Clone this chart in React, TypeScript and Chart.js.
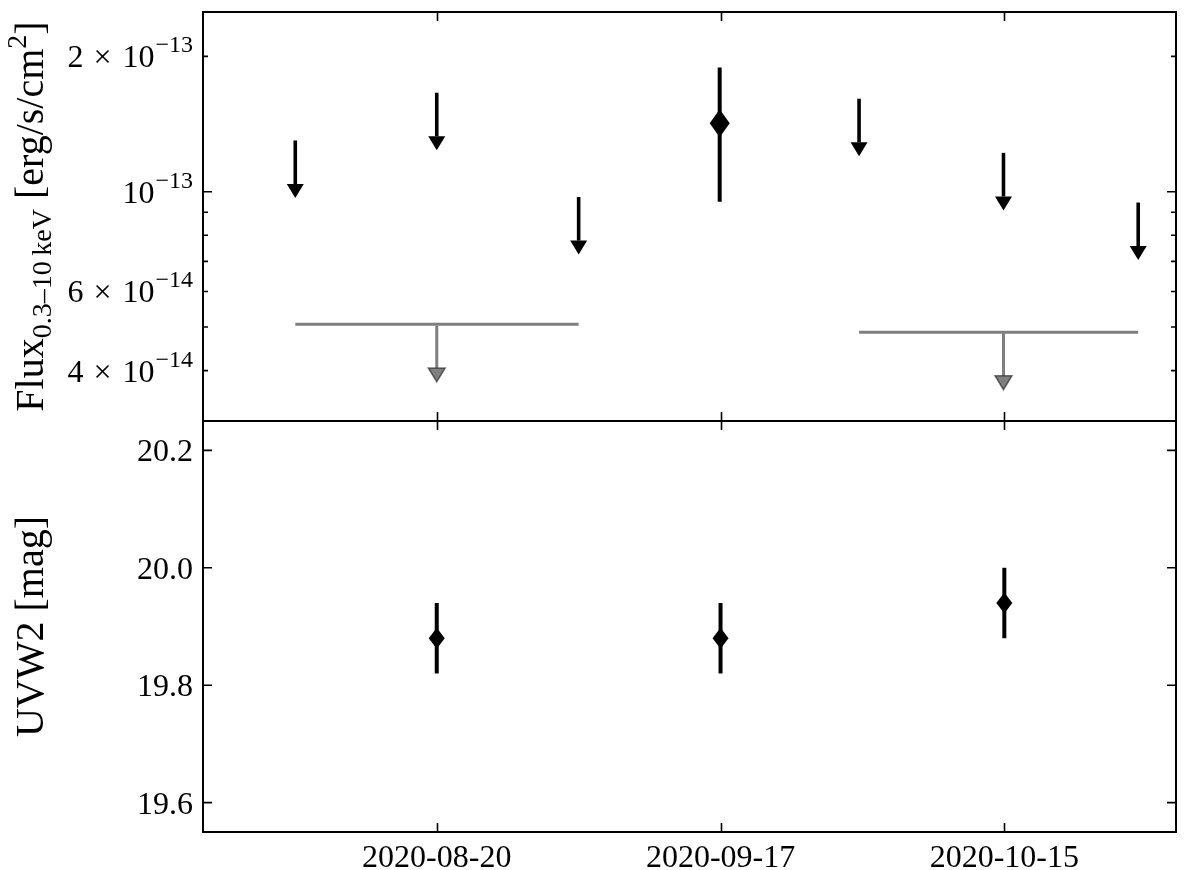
import React, { useEffect, useRef } from 'react';
import { Chart, registerables } from 'chart.js';

Chart.register(...registerables);

const FONT = '"Liberation Serif", "Times New Roman", serif';

// ---- X-ray (0.3-10 keV) single-epoch upper limits [erg/s/cm^2] ----
const xrayUlDates = ['2020-08-06T01:00', '2020-08-20T00:00', '2020-09-03T00:00', '2020-09-30T16:00', '2020-10-14T22:00', '2020-10-28T05:00'];
const xrayUlFlux = [1.30e-13, 1.66e-13, 0.973e-13, 1.61e-13, 1.22e-13, 0.946e-13];

// ---- X-ray detection ----
const xrayDetDates = ['2020-09-16T22:00'];
const xrayDetFlux = [1.42e-13];
const xrayDetErr = [0.47e-13];

// ---- X-ray stacked upper limits ----
const stackStartDates = ['2020-08-06T01:00', '2020-09-30T16:00'];
const stackEndDates = ['2020-09-03T00:00', '2020-10-28T05:00'];
const stackMidDates = ['2020-08-20T00:00', '2020-10-14T22:00'];
const stackFlux = [5.07e-14, 4.87e-14];

// ---- UVW2 photometry [mag] ----
const uvDates = ['2020-08-20T00:00', '2020-09-17T00:00', '2020-10-15T00:00'];
const uvMag = [19.88, 19.88, 19.94];
const uvErr = [0.06, 0.06, 0.06];

// ---- axes ----
const xTickDates = ['2020-08-20', '2020-09-17', '2020-10-15'];
const xMinDate = '2020-07-27T22:30';
const xMaxDate = '2020-10-31T22:30';
const fluxMin = 3.09e-14;
const fluxMax = 2.51e-13;
const fluxTickValues = [2e-13, 1e-13, 6e-14, 4e-14];
const fluxTickMantissa = ['2', '', '6', '4'];
const fluxTickExponent = ['\u221213', '\u221213', '\u221214', '\u221214'];
const fluxMajorTicks = [1e-13];
const fluxMinorTicks = [4e-14, 5e-14, 6e-14, 7e-14, 8e-14, 9e-14, 2e-13];
const magMin = 19.55;
const magMax = 20.25;
const magTicks = [19.6, 19.8, 20.0, 20.2];
const magTickLabels = ['19.6', '19.8', '20.0', '20.2'];

// upper-limit arrow convention: bar spans 20% of the value, caret below
const UL_FRACTION = 0.2;

const day = (s: string) => Date.parse(s.length === 10 ? s + 'T00:00:00Z' : s + ':00Z') / 86400000;

type Seg = { text: string; size: number; dy: number; gap?: number };

function segsWidth(ctx: CanvasRenderingContext2D, segs: Seg[]) {
  let w = 0;
  for (const s of segs) {
    ctx.font = `${s.size}px ${FONT}`;
    w += ctx.measureText(s.text).width + (s.gap || 0);
  }
  return w;
}

function drawSegs(ctx: CanvasRenderingContext2D, segs: Seg[], x: number, y: number) {
  let cx = x;
  ctx.textBaseline = 'alphabetic';
  ctx.textAlign = 'left';
  for (const s of segs) {
    ctx.font = `${s.size}px ${FONT}`;
    ctx.fillText(s.text, cx, y + s.dy);
    cx += ctx.measureText(s.text).width + (s.gap || 0);
  }
}

function drawRotatedTitle(ctx: CanvasRenderingContext2D, segs: Seg[], baseX: number, centerY: number) {
  ctx.save();
  ctx.translate(baseX, centerY);
  ctx.rotate(-Math.PI / 2);
  ctx.fillStyle = '#000';
  const w = segsWidth(ctx, segs);
  drawSegs(ctx, segs, -w / 2, 0);
  ctx.restore();
}

function drawArrow(ctx: CanvasRenderingContext2D, x: number, yTop: number, yBase: number, color: string, lw: number, edge: boolean) {
  const headW = 17;
  const headH = 14;
  ctx.save();
  ctx.strokeStyle = color;
  ctx.lineWidth = lw;
  ctx.lineCap = 'butt';
  ctx.beginPath();
  ctx.moveTo(x, yTop);
  ctx.lineTo(x, yBase);
  ctx.stroke();
  ctx.fillStyle = color;
  ctx.beginPath();
  ctx.moveTo(x - headW / 2, yBase);
  ctx.lineTo(x + headW / 2, yBase);
  ctx.lineTo(x, yBase + headH);
  ctx.closePath();
  ctx.fill();
  if (edge) {
    ctx.lineWidth = 1.5;
    ctx.stroke();
  }
  ctx.restore();
}

function drawDiamond(ctx: CanvasRenderingContext2D, x: number, y: number, hw: number, hh: number) {
  ctx.save();
  ctx.fillStyle = '#000';
  ctx.beginPath();
  ctx.moveTo(x, y - hh);
  ctx.lineTo(x + hw, y);
  ctx.lineTo(x, y + hh);
  ctx.lineTo(x - hw, y);
  ctx.closePath();
  ctx.fill();
  ctx.restore();
}

function drawVBar(ctx: CanvasRenderingContext2D, x: number, y1: number, y2: number, lw: number) {
  ctx.save();
  ctx.strokeStyle = '#000';
  ctx.lineWidth = lw;
  ctx.beginPath();
  ctx.moveTo(x, y1);
  ctx.lineTo(x, y2);
  ctx.stroke();
  ctx.restore();
}

function drawFrameAndTicks(chart: any, yMajor: number[], yMinor: number[]) {
  const ctx: CanvasRenderingContext2D = chart.ctx;
  const { left, right, top, bottom } = chart.chartArea;
  const xs = chart.scales.x;
  const ys = chart.scales.y;
  ctx.save();
  ctx.strokeStyle = '#000';
  ctx.lineWidth = 1.6;
  ctx.beginPath();
  for (const d of xTickDates) {
    const px = Math.round(xs.getPixelForValue(day(d))) + 0.5;
    ctx.moveTo(px, bottom);
    ctx.lineTo(px, bottom - 9);
    ctx.moveTo(px, top);
    ctx.lineTo(px, top + 9);
  }
  for (const v of yMajor) {
    const py = ys.getPixelForValue(v);
    ctx.moveTo(left, py);
    ctx.lineTo(left + 9, py);
    ctx.moveTo(right, py);
    ctx.lineTo(right - 9, py);
  }
  for (const v of yMinor) {
    const py = ys.getPixelForValue(v);
    ctx.moveTo(left, py);
    ctx.lineTo(left + 5, py);
    ctx.moveTo(right, py);
    ctx.lineTo(right - 5, py);
  }
  ctx.stroke();
  ctx.lineWidth = 2;
  ctx.strokeRect(left, top, right - left, bottom - top);
  ctx.restore();
}

const xrayPlugin = {
  id: 'xrayDecor',
  afterDatasetsDraw(chart: any) {
    const ctx: CanvasRenderingContext2D = chart.ctx;
    const ys = chart.scales.y;
    const xs = chart.scales.x;
    // single-epoch upper limits
    const ulMeta = chart.getDatasetMeta(0);
    ulMeta.data.forEach((el: any, i: number) => {
      const yBase = ys.getPixelForValue(xrayUlFlux[i] * (1 - UL_FRACTION));
      drawArrow(ctx, el.x, el.y, yBase, '#000', 3.6, false);
    });
    // detection with error bar
    const detMeta = chart.getDatasetMeta(1);
    detMeta.data.forEach((el: any, i: number) => {
      const y1 = ys.getPixelForValue(xrayDetFlux[i] + xrayDetErr[i]);
      const y2 = ys.getPixelForValue(xrayDetFlux[i] - xrayDetErr[i]);
      drawVBar(ctx, el.x, y1, y2, 4);
      drawDiamond(ctx, el.x, el.y, 10, 14);
    });
    // stacked upper-limit arrows
    stackMidDates.forEach((d, i) => {
      const px = xs.getPixelForValue(day(d));
      const py = ys.getPixelForValue(stackFlux[i]);
      const yBase = ys.getPixelForValue(stackFlux[i] * (1 - UL_FRACTION));
      drawArrow(ctx, px, py + 1.5, yBase, 'rgba(0,0,0,0.5)', 3, true);
    });
  },
  afterDraw(chart: any) {
    const ctx: CanvasRenderingContext2D = chart.ctx;
    const ys = chart.scales.y;
    drawFrameAndTicks(chart, fluxMajorTicks, fluxMinorTicks);
    ctx.save();
    ctx.fillStyle = '#000';
    fluxTickValues.forEach((v, i) => {
      const py = ys.getPixelForValue(v);
      const segs: Seg[] = [];
      if (fluxTickMantissa[i]) {
        segs.push({ text: fluxTickMantissa[i], size: 32, dy: 0, gap: 10 });
        segs.push({ text: '\u00d7', size: 32, dy: 0, gap: 11 });
      }
      segs.push({ text: '10', size: 32, dy: 0, gap: 1 });
      segs.push({ text: fluxTickExponent[i], size: 24, dy: -15 });
      const w = segsWidth(ctx, segs);
      drawSegs(ctx, segs, 193 - w, py + 11);
    });
    ctx.restore();
    drawRotatedTitle(ctx, [
      { text: 'Flux', size: 40, dy: 0 },
      { text: '0.3\u201310\u2009keV', size: 28, dy: 8 },
      { text: ' [erg/s/cm', size: 40, dy: 0 },
      { text: '2', size: 28, dy: -17 },
      { text: ']', size: 40, dy: 0 },
    ], 43, (chart.chartArea.top + chart.chartArea.bottom) / 2);
  },
};

const uvPlugin = {
  id: 'uvDecor',
  afterDatasetsDraw(chart: any) {
    const ctx: CanvasRenderingContext2D = chart.ctx;
    const ys = chart.scales.y;
    const meta = chart.getDatasetMeta(0);
    meta.data.forEach((el: any, i: number) => {
      const y1 = ys.getPixelForValue(uvMag[i] + uvErr[i]);
      const y2 = ys.getPixelForValue(uvMag[i] - uvErr[i]);
      drawVBar(ctx, el.x, y1, y2, 4);
      drawDiamond(ctx, el.x, el.y, 8, 10.5);
    });
  },
  afterDraw(chart: any) {
    const ctx: CanvasRenderingContext2D = chart.ctx;
    const ys = chart.scales.y;
    const xs = chart.scales.x;
    drawFrameAndTicks(chart, magTicks, []);
    ctx.save();
    ctx.fillStyle = '#000';
    ctx.font = `32px ${FONT}`;
    ctx.textAlign = 'right';
    ctx.textBaseline = 'alphabetic';
    magTicks.forEach((v, i) => {
      ctx.fillText(magTickLabels[i], 193, ys.getPixelForValue(v) + 11);
    });
    ctx.textAlign = 'center';
    xTickDates.forEach((d) => {
      ctx.fillText(d, xs.getPixelForValue(day(d)), chart.chartArea.bottom + 35);
    });
    ctx.restore();
    drawRotatedTitle(ctx, [{ text: 'UVW2 [mag]', size: 40, dy: 0 }], 43, (chart.chartArea.top + chart.chartArea.bottom) / 2);
  },
};

export default function App() {
  const topRef = useRef<HTMLCanvasElement>(null);
  const botRef = useRef<HTMLCanvasElement>(null);

  useEffect(() => {
    const xScale = { type: 'linear' as const, min: day(xMinDate), max: day(xMaxDate), display: false };
    const topChart = new Chart(topRef.current!, {
      type: 'scatter',
      data: {
        datasets: [
          {
            label: 'X-ray upper limits',
            data: xrayUlDates.map((d, i) => ({ x: day(d), y: xrayUlFlux[i] })),
            pointRadius: 0,
            showLine: false,
          },
          {
            label: 'X-ray detection',
            data: xrayDetDates.map((d, i) => ({ x: day(d), y: xrayDetFlux[i] })),
            pointRadius: 0,
            showLine: false,
          },
          ...stackFlux.map((v, i) => ({
            type: 'line' as const,
            label: `Stacked upper limit ${i + 1}`,
            data: [
              { x: day(stackStartDates[i]), y: v },
              { x: day(stackEndDates[i]), y: v },
            ],
            borderColor: 'rgba(0,0,0,0.5)',
            borderWidth: 3,
            pointRadius: 0,
            showLine: true,
            fill: false,
          })),
        ],
      },
      options: {
        animation: false,
        responsive: false,
        devicePixelRatio: 1,
        layout: { padding: { left: 203, right: 24, top: 12, bottom: 870 - 421 } },
        scales: {
          x: xScale,
          y: { type: 'logarithmic', min: fluxMin, max: fluxMax, display: false },
        },
        plugins: { legend: { display: false }, tooltip: { enabled: false } },
      },
      plugins: [xrayPlugin],
    } as any);

    const botChart = new Chart(botRef.current!, {
      type: 'scatter',
      data: {
        datasets: [
          {
            label: 'UVW2',
            data: uvDates.map((d, i) => ({ x: day(d), y: uvMag[i] })),
            pointRadius: 0,
            showLine: false,
          },
        ],
      },
      options: {
        animation: false,
        responsive: false,
        devicePixelRatio: 1,
        layout: { padding: { left: 203, right: 24, top: 421, bottom: 870 - 832 } },
        scales: {
          x: xScale,
          y: { type: 'linear', min: magMin, max: magMax, display: false },
        },
        plugins: { legend: { display: false }, tooltip: { enabled: false } },
      },
      plugins: [uvPlugin],
    } as any);

    return () => {
      topChart.destroy();
      botChart.destroy();
    };
  }, []);

  return (
    <div style={{ position: 'absolute', left: 0, top: 0, width: 1200, height: 870, background: '#fff' }}>
      <canvas ref={topRef} width={1200} height={870} style={{ position: 'absolute', left: 0, top: 0, width: 1200, height: 870 }} />
      <canvas ref={botRef} width={1200} height={870} style={{ position: 'absolute', left: 0, top: 0, width: 1200, height: 870 }} />
    </div>
  );
}
